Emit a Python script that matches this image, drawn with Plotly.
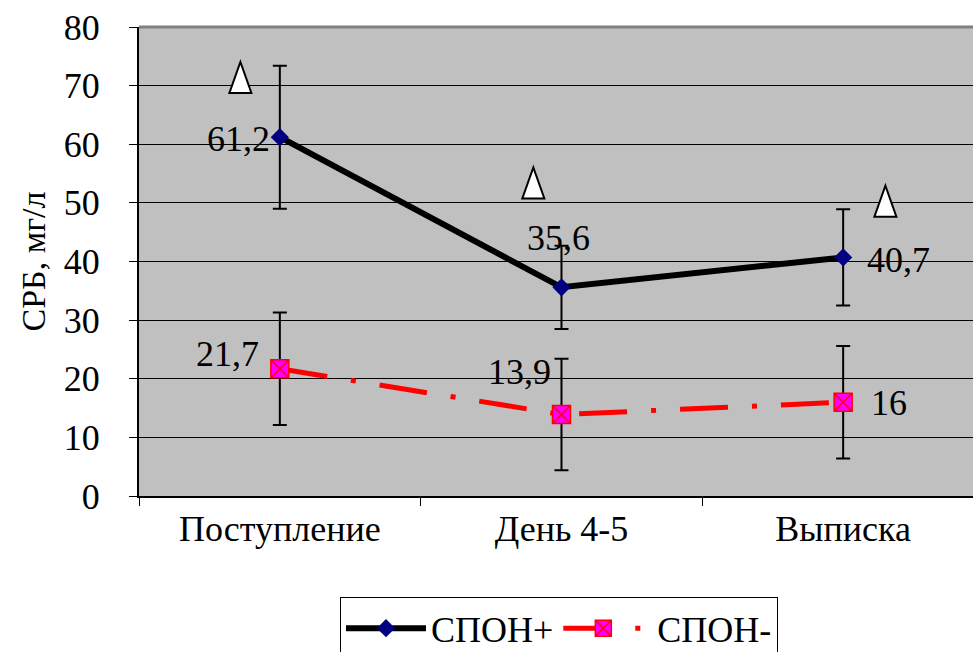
import plotly.graph_objects as go

categories = ["Поступление", "День 4-5", "Выписка"]
spon_plus = [61.2, 35.6, 40.7]
spon_plus_err = [12.2, 7.1, 8.2]
spon_minus = [21.7, 13.9, 16.0]
spon_minus_err = [9.6, 9.5, 9.6]
plus_labels = ["61,2", "35,6", "40,7"]
minus_labels = ["21,7", "13,9", "16"]
# significance markers (triangles), in axis units
tri_x = [-0.14, 0.9, 2.15]
tri_y = [71.3, 53.3, 50.2]

# label placement (style only)
plus_anchor = [("right", -8, -2), ("center", -3, 49), ("left", 22, -3)]
minus_anchor = [("right", -19, 15), ("right", -8, 43), ("left", 26, -1)]

xi = list(range(len(categories)))
FONT = "Liberation Serif"

fig = go.Figure()
fig.add_trace(go.Scatter(
    x=xi, y=spon_plus, name="СПОН+", mode="lines+markers",
    line=dict(color="black", width=6),
    marker=dict(symbol="diamond", size=14, color="#000080", line=dict(width=0)),
    error_y=dict(type="data", array=spon_plus_err, color="black", thickness=2, width=7),
))
fig.add_trace(go.Scatter(
    x=xi, y=spon_minus, name="\u00a0СПОН-", mode="lines+markers",
    line=dict(color="#FF0000", width=5, dash="48px,24px,5px,24px"),
    marker=dict(symbol="square-x", size=18, color="#FF00FF", line=dict(color="#FF0000", width=1.5)),
    error_y=dict(type="data", array=spon_minus_err, color="black", thickness=2, width=7),
))

annotations = []
for vals, labels, anchors in ((spon_plus, plus_labels, plus_anchor), (spon_minus, minus_labels, minus_anchor)):
    for x, y, t, (xa, dx, dy) in zip(xi, vals, labels, anchors):
        annotations.append(dict(x=x, y=y, xref="x", yref="y", text=t, showarrow=False,
                                xanchor=xa, yanchor="middle", xshift=dx, yshift=dy,
                                font=dict(family=FONT, size=36, color="black")))

shapes = [dict(type="line", xref="paper", yref="paper", x0=0, x1=1, y0=1, y1=1,
               line=dict(color="#808080", width=3))]
for tx, ty in zip(tri_x, tri_y):
    shapes.append(dict(type="path", xref="x", yref="y", xsizemode="pixel", ysizemode="pixel",
                       xanchor=tx, yanchor=ty, path="M -11,-15 L 11,-15 L 0,16 Z",
                       fillcolor="white", line=dict(color="black", width=2)))

fig.update_layout(
    width=973, height=652,
    margin=dict(l=139, r=0, t=27, b=156, autoexpand=False),
    paper_bgcolor="white", plot_bgcolor="#C0C0C0",
    showlegend=True,
    legend=dict(orientation="h", x=0.241, xanchor="left", y=-0.216, yanchor="top",
                bordercolor="black", borderwidth=1, bgcolor="white",
                font=dict(family=FONT, size=36, color="black"), itemwidth=80),
    xaxis=dict(range=[-0.5, 2.461], tickmode="array", tickvals=xi, ticktext=categories,
               ticks="", showgrid=False, zeroline=False, showline=True, linecolor="black", linewidth=2,
               tickfont=dict(family=FONT, size=36, color="black"),
               minor=dict(tickvals=[-0.5, 0.5, 1.5, 2.5], ticks="outside", ticklen=8,
                          tickcolor="black", tickwidth=1, showgrid=False)),
    yaxis=dict(range=[0, 80], dtick=10, ticks="outside", ticklen=8, tickcolor="black",
               showgrid=True, gridcolor="black", gridwidth=1, zeroline=False,
               showline=True, linecolor="black", linewidth=2,
               tickfont=dict(family=FONT, size=36, color="black"), ticklabelstandoff=22,
               title=dict(text="СРБ, мг/л", font=dict(family=FONT, size=34, color="black"), standoff=8)),
    shapes=shapes,
    annotations=annotations,
)

fig.write_html("out.html")
